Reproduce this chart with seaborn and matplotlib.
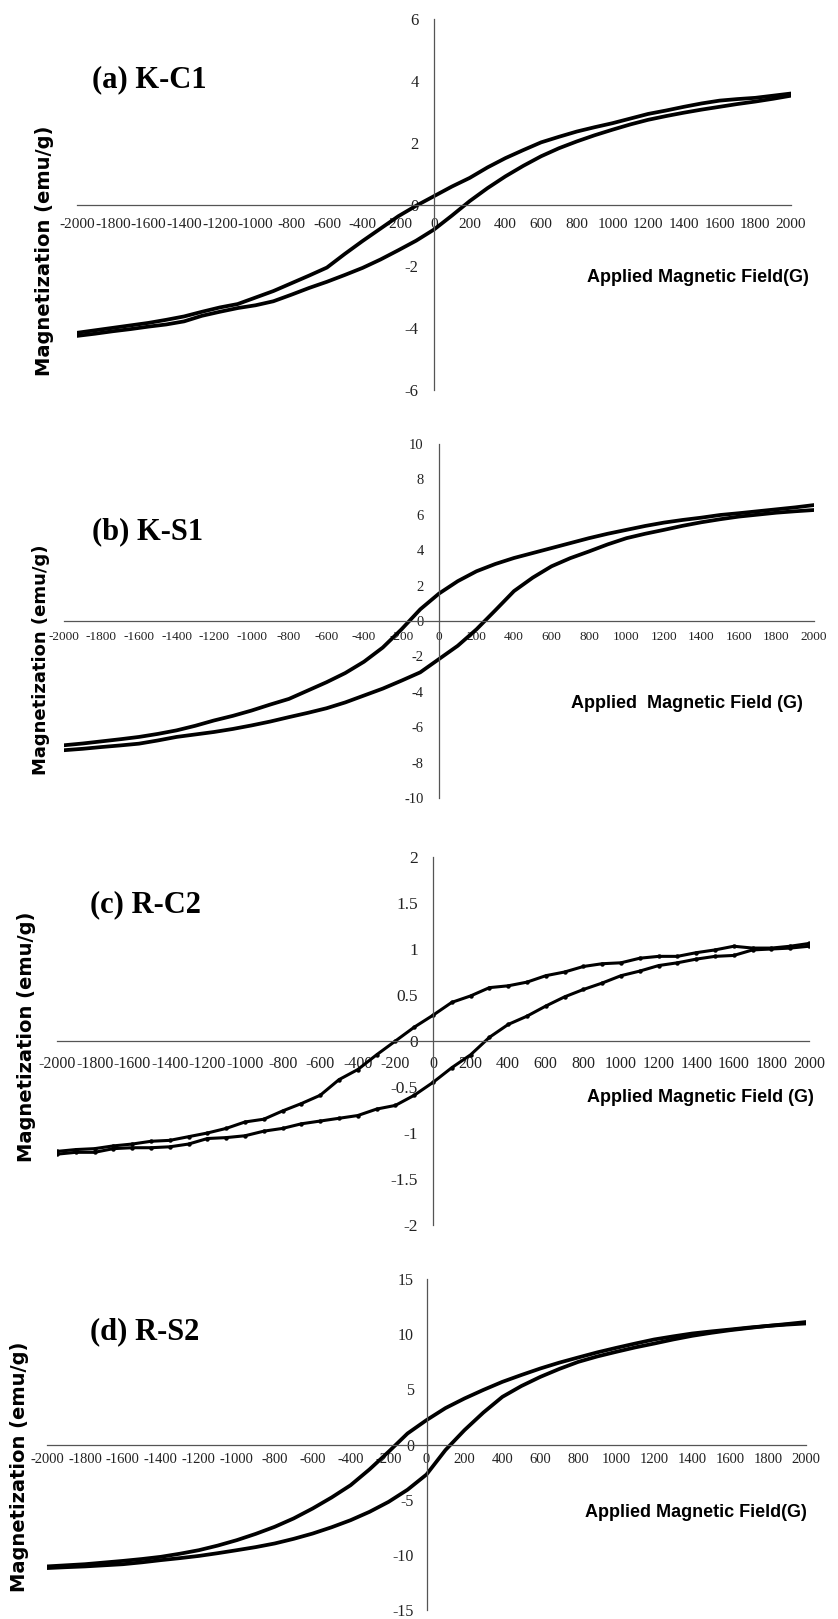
import numpy as np
import pandas as pd
import matplotlib
matplotlib.use("Agg")
import matplotlib.pyplot as plt
import seaborn as sns
from matplotlib import font_manager as fm

# ---------------- data ----------------
field = list(range(-2000, 2001, 100))

# (a) K-C1  (values listed from -2000 G to +2000 G)
a_desc = [-4.15, -4.07, -3.99, -3.91, -3.83, -3.73, -3.62, -3.47, -3.33, -3.22, -3.01,
          -2.80, -2.55, -2.30, -2.04, -1.60, -1.18, -0.78, -0.38, -0.04, 0.27,
          0.58, 0.86, 1.20, 1.50, 1.76, 2.01, 2.19, 2.36, 2.50, 2.63,
          2.78, 2.93, 3.04, 3.16, 3.27, 3.36, 3.41, 3.45, 3.52, 3.59]
a_asc = [-4.25, -4.18, -4.10, -4.03, -3.95, -3.88, -3.78, -3.60, -3.47, -3.35, -3.26,
         -3.13, -2.92, -2.70, -2.50, -2.28, -2.05, -1.78, -1.48, -1.17, -0.81,
         -0.36, 0.11, 0.53, 0.91, 1.25, 1.56, 1.82, 2.04, 2.24, 2.42,
         2.59, 2.74, 2.86, 2.97, 3.07, 3.16, 3.25, 3.33, 3.42, 3.52]

# (b) K-S1
b_desc = [-7.02, -6.92, -6.80, -6.68, -6.55, -6.38, -6.18, -5.92, -5.62, -5.36, -5.06,
          -4.72, -4.40, -3.93, -3.46, -2.94, -2.30, -1.50, -0.47, 0.66, 1.55,
          2.25, 2.81, 3.22, 3.56, 3.84, 4.12, 4.40, 4.68, 4.93, 5.15,
          5.37, 5.56, 5.71, 5.84, 5.99, 6.09, 6.20, 6.31, 6.42, 6.55]
b_asc = [-7.30, -7.22, -7.12, -7.03, -6.93, -6.75, -6.55, -6.41, -6.27, -6.10, -5.90,
         -5.68, -5.43, -5.19, -4.93, -4.60, -4.21, -3.82, -3.37, -2.90, -2.15,
         -1.40, -0.47, 0.60, 1.69, 2.45, 3.09, 3.55, 3.93, 4.33, 4.68,
         4.93, 5.15, 5.38, 5.58, 5.75, 5.90, 6.01, 6.12, 6.20, 6.27]

# (c) R-C2
c_desc = [-1.20, -1.18, -1.17, -1.14, -1.12, -1.09, -1.08, -1.04, -1.00, -0.95, -0.88,
          -0.85, -0.76, -0.68, -0.59, -0.42, -0.31, -0.15, 0.00, 0.15, 0.28,
          0.42, 0.49, 0.58, 0.60, 0.64, 0.71, 0.75, 0.81, 0.84, 0.85,
          0.90, 0.92, 0.92, 0.96, 0.99, 1.03, 1.01, 1.01, 1.03, 1.06]
c_asc = [-1.23, -1.21, -1.21, -1.17, -1.16, -1.16, -1.15, -1.12, -1.06, -1.05, -1.03,
         -0.98, -0.95, -0.90, -0.87, -0.84, -0.81, -0.74, -0.70, -0.59, -0.45,
         -0.29, -0.15, 0.04, 0.18, 0.27, 0.38, 0.48, 0.56, 0.63, 0.71,
         0.76, 0.82, 0.85, 0.89, 0.92, 0.93, 0.99, 1.00, 1.01, 1.03]

# (d) R-S2
d_desc = [-11.05, -10.95, -10.85, -10.70, -10.55, -10.38, -10.18, -9.90, -9.58, -9.16, -8.67,
          -8.10, -7.46, -6.70, -5.80, -4.80, -3.69, -2.25, -0.66, 1.00, 2.21,
          3.30, 4.17, 4.95, 5.68, 6.30, 6.89, 7.42, 7.89, 8.35, 8.76,
          9.15, 9.52, 9.80, 10.06, 10.25, 10.42, 10.60, 10.75, 10.92, 11.10]
d_asc = [-11.20, -11.12, -11.05, -10.95, -10.85, -10.68, -10.48, -10.30, -10.10, -9.85, -9.58,
         -9.30, -8.97, -8.55, -8.07, -7.50, -6.86, -6.10, -5.20, -4.10, -2.72,
         -0.50, 1.30, 2.90, 4.32, 5.30, 6.13, 6.85, 7.49, 7.98, 8.40,
         8.80, 9.15, 9.52, 9.85, 10.12, 10.36, 10.56, 10.75, 10.87, 10.97]

titles = ["(a) K-C1", "(b) K-S1", "(c) R-C2", "(d) R-S2"]
xlabels = ["Applied Magnetic Field(G)", "Applied  Magnetic Field (G)",
           "Applied Magnetic Field (G)", "Applied Magnetic Field(G)"]
ylabel = "Magnetization (emu/g)"
x_ticks = list(range(-2000, 2001, 200))
y_ticks_a = [-6, -4, -2, 0, 2, 4, 6]
y_ticks_b = [-10, -8, -6, -4, -2, 0, 2, 4, 6, 8, 10]
y_ticks_c = [-2, -1.5, -1, -0.5, 0, 0.5, 1, 1.5, 2]
y_ticks_d = [-15, -10, -5, 0, 5, 10, 15]
y_labels_c = ["-2", "-1.5", "-1", "-0.5", "0", "0.5", "1", "1.5", "2"]

# ---------------- style ----------------
sns.set_style("white")
plt.rcParams["font.family"] = ["DejaVu Sans"]
plt.rcParams["axes.unicode_minus"] = False

def has_font(name, weight="bold"):
    try:
        fm.findfont(fm.FontProperties(family=name, weight=weight), fallback_to_default=False)
        return True
    except Exception:
        return False

NARROW = has_font("Liberation Sans Narrow")
XL_FAMILY = "Liberation Sans Narrow" if NARROW else "Liberation Sans"
XL_SIZE = 15 if NARROW else 13
SERIF = "Liberation Serif"

W, H = 838, 1619
fig = plt.figure(figsize=(W / 100, H / 100), dpi=100)
fig.patch.set_facecolor("white")

def px_axes(left, right, top, bottom):
    return fig.add_axes([left / W, 1 - bottom / H, (right - left) / W, (bottom - top) / H])

panels = [
    dict(desc=a_desc, asc=a_asc, box=(77, 791, 19, 390), yt=y_ticks_a, yl=[str(v) for v in y_ticks_a],
         tick_fs=11, xpad=5, ypad=6, marker=None, lw=2.7,
         title=(92, 80), xlab=(587, 277), ylab=(44, 251), ylab_fs=14),
    dict(desc=b_desc, asc=b_asc, box=(64, 814, 444, 798), yt=y_ticks_b, yl=[str(v) for v in y_ticks_b],
         tick_fs=9.5, xpad=2, ypad=6, marker=None, lw=2.7,
         title=(92, 532), xlab=(571, 703), ylab=(41, 660), ylab_fs=13),
    dict(desc=c_desc, asc=c_asc, box=(57, 809, 857, 1225), yt=y_ticks_c, yl=y_labels_c,
         tick_fs=11.5, xpad=6, ypad=6, marker="o", lw=2.2,
         title=(90, 905), xlab=(587, 1098), ylab=(26, 1037), ylab_fs=14),
    dict(desc=d_desc, asc=d_asc, box=(47, 806, 1279, 1610), yt=y_ticks_d, yl=[str(v) for v in y_ticks_d],
         tick_fs=10.5, xpad=1, ypad=4, marker=None, lw=2.7,
         title=(90, 1332), xlab=(585, 1512), ylab=(20, 1467), ylab_fs=14),
]

for i, p in enumerate(panels):
    ax = px_axes(*p["box"])
    ax.set_facecolor("none")
    df = pd.DataFrame({
        "H": field + field,
        "M": p["desc"] + p["asc"],
        "branch": ["desc"] * len(field) + ["asc"] * len(field),
    })
    desc_df = df[df["branch"] == "desc"].iloc[::-1]   # +2000 -> -2000
    asc_df = df[df["branch"] == "asc"]                # -2000 -> +2000
    kw = dict(color="black", linewidth=p["lw"], sort=False, estimator=None, ax=ax)
    if p["marker"]:
        kw.update(marker="o", markersize=3.2, markeredgewidth=0)
    sns.lineplot(data=desc_df, x="H", y="M", **kw)
    sns.lineplot(data=asc_df, x="H", y="M", **kw)

    ax.set_xlim(-2000, 2000)
    ax.set_ylim(p["yt"][0], p["yt"][-1])
    for s in ["top", "right"]:
        ax.spines[s].set_visible(False)
    ax.spines["left"].set_position(("data", 0))
    ax.spines["bottom"].set_position(("data", 0))
    for s in ["left", "bottom"]:
        ax.spines[s].set_color("#555555")
        ax.spines[s].set_linewidth(0.9)
    ax.set_xticks(x_ticks, [str(v) for v in x_ticks], fontfamily=SERIF, fontsize=p["tick_fs"])
    ax.set_yticks(p["yt"], p["yl"], fontfamily=SERIF, fontsize=p["tick_fs"] + 1)
    ax.tick_params(axis="x", direction="out", length=5, width=0.8, color="#555555",
                   pad=p["xpad"], labelcolor="#222222")
    ax.tick_params(axis="y", direction="out", length=5, width=0.8, color="#555555",
                   pad=p["ypad"], labelcolor="#222222")
    ax.set_xlabel("")
    ax.set_ylabel("")

    tx, ty = p["title"]
    fig.text(tx / W, 1 - ty / H, titles[i], ha="left", va="center",
             fontfamily=SERIF, fontweight="bold", fontsize=22, color="black")
    lx, ly = p["xlab"]
    fig.text(lx / W, 1 - ly / H, xlabels[i], ha="left", va="center",
             fontfamily=XL_FAMILY, fontweight="bold", fontsize=XL_SIZE, color="black")
    yx, yy = p["ylab"]
    fig.text(yx / W, 1 - yy / H, ylabel, ha="center", va="center", rotation=90,
             fontfamily="DejaVu Sans", fontweight="bold", fontsize=p["ylab_fs"], color="black")

fig.savefig("out.png", dpi=100, facecolor="white")
